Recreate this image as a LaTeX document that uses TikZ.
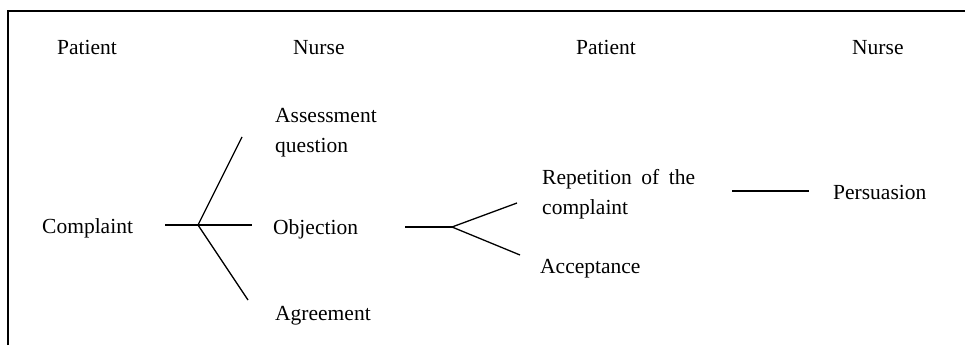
\documentclass[tikz,border=0pt]{standalone}
\usepackage{fontspec}
\setmainfont{Liberation Serif}
\begin{document}
\begin{tikzpicture}[x=1pt,y=-1pt,
  lbl/.style={font=\fontsize{21.5}{30}\selectfont, inner sep=0pt, anchor=base west},
  ln/.style={line width=1.3pt},
  frm/.style={line width=1.4pt}]
\useasboundingbox (0,0) rectangle (965,345);
% frame
\draw[frm] (8,345) -- (8,11) -- (965,11);
% headers
\node[lbl] (h1) at (57,55) {Patient};
\node[lbl] (h2) at (293,55) {Nurse};
\node[lbl] (h3) at (576,55) {Patient};
\node[lbl] (h4) at (852,55) {Nurse};
% labels
\node[lbl] (complaint) at (42,233) {Complaint};
\node[lbl] (assess) at (275,122) {\begin{tabular}[t]{@{}l@{}}Assessment\\question\end{tabular}};
\node[lbl] (objection) at (273,234) {Objection};
\node[lbl] (agreement) at (275,320) {Agreement};
\node[lbl] (repetition) at (542,184) {\begin{tabular}[t]{@{}l@{}}\makebox[153pt][s]{Repetition of the}\\complaint\end{tabular}};
\node[lbl] (acceptance) at (540,273) {Acceptance};
\node[lbl] (persuasion) at (833,199) {Persuasion};
% connector points
\coordinate (c1) at (165,225);
\coordinate (j1) at (198,225);
\coordinate (a1) at (242,137);
\coordinate (o1) at (252,225);
\coordinate (g1) at (248,300);
\coordinate (c2) at (405,227);
\coordinate (j2) at (452,227);
\coordinate (r2) at (517,203);
\coordinate (e2) at (520,255);
\coordinate (p1) at (732,191);
\coordinate (p2) at (809,191);
% connectors
\draw[ln] (c1) -- (j1);
\draw[ln] (j1) -- (a1);
\draw[ln] (j1) -- (o1);
\draw[ln] (j1) -- (g1);
\draw[ln] (c2) -- (j2);
\draw[ln] (j2) -- (r2);
\draw[ln] (j2) -- (e2);
\draw[ln] (p1) -- (p2);
\end{tikzpicture}
\end{document}
